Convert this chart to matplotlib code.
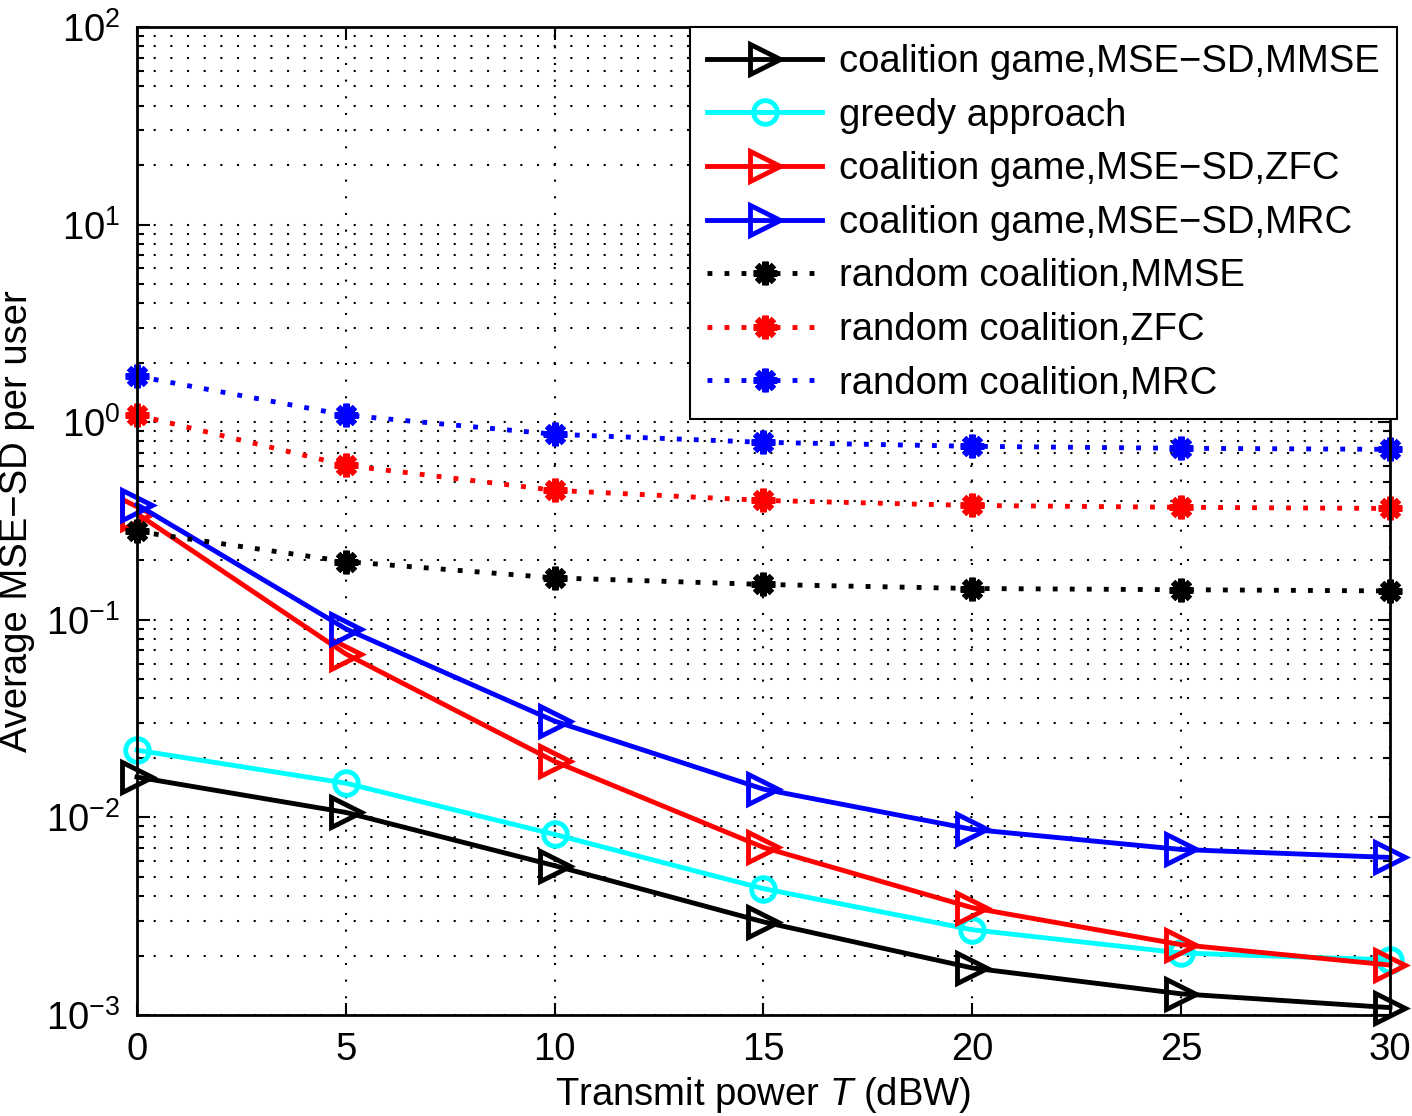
import numpy as np
import matplotlib
matplotlib.use("Agg")
import matplotlib.pyplot as plt
from matplotlib.ticker import LogLocator, NullFormatter

plt.rcParams['font.family'] = ['Liberation Sans', 'DejaVu Sans']
plt.rcParams['mathtext.fontset'] = 'custom'
plt.rcParams['mathtext.rm'] = 'Liberation Sans'
plt.rcParams['mathtext.it'] = 'Liberation Sans:italic'

# Transmit power (dBW)
power = [0, 5, 10, 15, 20, 25, 30]

# Average MSE-SD per user
cg_mmse = [0.0160, 0.0106, 0.0057, 0.00296, 0.00173, 0.00128, 0.00109]
greedy = [0.0219, 0.0149, 0.0082, 0.00436, 0.0027, 0.00206, 0.0019]
cg_zfc = [0.345, 0.0672, 0.0192, 0.00705, 0.00349, 0.00227, 0.00179]
cg_mrc = [0.383, 0.090, 0.0307, 0.0139, 0.0087, 0.00688, 0.00627]
rand_mmse = [0.280, 0.197, 0.163, 0.151, 0.144, 0.142, 0.140]
rand_zfc = [1.086, 0.605, 0.452, 0.402, 0.379, 0.371, 0.366]
rand_mrc = [1.71, 1.086, 0.869, 0.791, 0.755, 0.738, 0.729]

labels = ['coalition game,MSE\u2212SD,MMSE', 'greedy approach',
          'coalition game,MSE\u2212SD,ZFC', 'coalition game,MSE\u2212SD,MRC',
          'random coalition,MMSE', 'random coalition,ZFC', 'random coalition,MRC']

fig = plt.figure(figsize=(14.12, 11.16), dpi=100)
ax = fig.add_axes([0.0970, 0.0905, 0.8874, 0.8853])

lw = 3.5
ax.plot(power, cg_mmse, color='black', lw=lw, marker='>', ms=21, mfc='none', mew=3.5,
        clip_on=False, label=labels[0])
ax.plot(power, greedy, color='cyan', lw=lw, marker='o', ms=17, mfc='none', mew=3.5,
        clip_on=False, label=labels[1])
ax.plot(power, cg_zfc, color='red', lw=lw, marker='>', ms=21, mfc='none', mew=3.5,
        clip_on=False, label=labels[2])
ax.plot(power, cg_mrc, color='blue', lw=lw, marker='>', ms=21, mfc='none', mew=3.5,
        clip_on=False, label=labels[3])

dots = (0, (1, 2.5))
for vals, col, lab in [(rand_mmse, 'black', labels[4]),
                       (rand_zfc, 'red', labels[5]),
                       (rand_mrc, 'blue', labels[6])]:
    ax.plot(power, vals, color=col, lw=lw, ls=dots, marker=(8, 2, 0), ms=17, mew=4.5,
            clip_on=False, label=lab)

ax.set_yscale('log')
ax.set_ylim(1e-3, 1e2)
ax.set_xlim(0, 30)
ax.set_xticks(power)
ax.yaxis.set_major_locator(LogLocator(base=10, numticks=10))
ax.yaxis.set_minor_locator(LogLocator(base=10, subs=np.arange(2, 10), numticks=20))
ax.yaxis.set_minor_formatter(NullFormatter())

ax.grid(True, which='major', color='black', ls=(0, (1, 7)), lw=1.5)
ax.grid(True, which='minor', axis='y', color='black', ls=(0, (1, 7)), lw=1.5)

ax.tick_params(which='both', direction='in', top=True, right=True, labelsize=27.5, width=1.5)
ax.tick_params(which='major', length=9, pad=12)
ax.tick_params(which='minor', length=5)
for s in ax.spines.values():
    s.set_linewidth(2)

ax.set_xlabel('Transmit power $T$ (dBW)', fontsize=27.5, labelpad=5)
ax.set_ylabel('Average MSE\u2212SD per user', fontsize=27.5, labelpad=8)

leg = ax.legend(loc='upper right', bbox_to_anchor=(1.0056, 1.0), fontsize=27.5,
                fancybox=False, framealpha=1, edgecolor='black', handlelength=3.0,
                labelspacing=0.46, borderpad=0.45, handletextpad=0.45, borderaxespad=0)
leg.get_frame().set_linewidth(1.5)

fig.savefig('out.png', dpi=100)
